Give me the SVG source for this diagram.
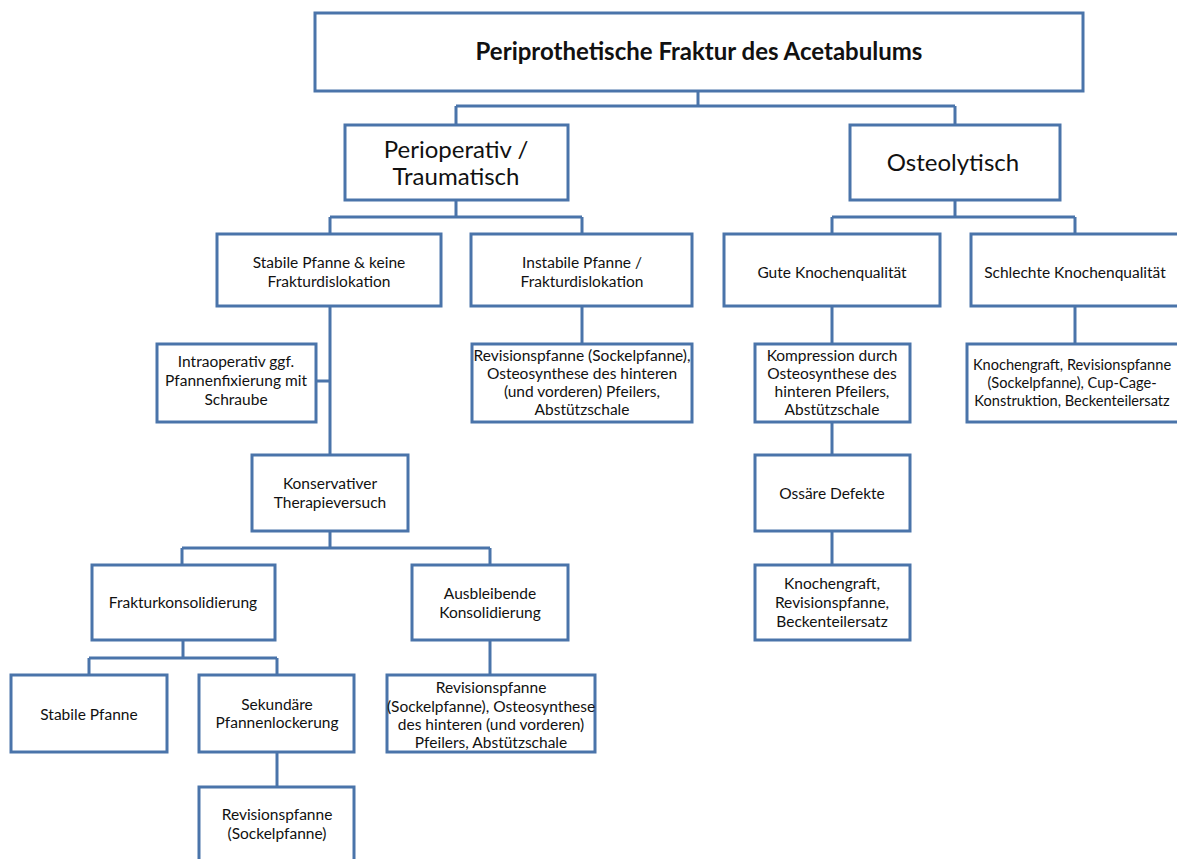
<svg xmlns="http://www.w3.org/2000/svg" width="1177" height="859" viewBox="0 0 1177 859">
<style>
.b{fill:#fff;stroke:#4A74AA;stroke-width:3}
.c{fill:none;stroke:#4A74AA;stroke-width:3}
text{font-family:Lato,"Open Sans","Liberation Sans",sans-serif;fill:#111;text-anchor:middle}
.s{font-size:15.5px}
.k{font-size:14.6px}
.m{font-size:24px}
.t{font-size:24px;font-weight:bold}
</style>
<rect width="1177" height="859" fill="#fff"/>
<g id="connectors">
<path class="c" d="M698 91V106M456 106H955M456 106V125M955 106V125"/>
<path class="c" d="M456 200V217M330 217H582M330 217V234M582 217V234"/>
<path class="c" d="M955 200V217M832 217H1075M832 217V234M1075 217V234"/>
<path class="c" d="M330 306V455M316 381H330"/>
<path class="c" d="M582 306V344"/>
<path class="c" d="M330 531V548M182 548H490M182 548V565M490 548V565"/>
<path class="c" d="M183 640V658M89 658H277M89 658V675M277 658V675"/>
<path class="c" d="M490 640V675"/>
<path class="c" d="M277 752V787"/>
<path class="c" d="M832 306V344M832 422V455M832 531V565"/>
<path class="c" d="M1075 306V344"/>
</g>
<g id="n_root"><rect class="b" x="315" y="13" width="768" height="78"/><text class="t" x="699" y="60">Periprothetische Fraktur des Acetabulums</text></g>
<g id="n_periop"><rect class="b" x="345" y="125" width="223" height="75"/><text class="m" x="456" y="158">Perioperativ /</text><text class="m" x="456" y="185">Traumatisch</text></g>
<g id="n_osteo"><rect class="b" x="850" y="125" width="210" height="75"/><text class="m" x="953" y="171">Osteolytisch</text></g>
<g id="n_stabil"><rect class="b" x="217" y="234" width="224" height="72"/><text class="s" x="329" y="268">Stabile Pfanne &amp; keine</text><text class="s" x="329" y="287">Frakturdislokation</text></g>
<g id="n_instabil"><rect class="b" x="471" y="234" width="221" height="72"/><text class="s" x="582" y="268">Instabile Pfanne /</text><text class="s" x="582" y="287">Frakturdislokation</text></g>
<g id="n_gute"><rect class="b" x="724" y="234" width="216" height="72"/><text class="s" x="832" y="278">Gute Knochenqualität</text></g>
<g id="n_schlecht"><rect class="b" x="971" y="234" width="215" height="72"/><text class="s" x="1075" y="278">Schlechte Knochenqualität</text></g>
<g id="n_intraop"><rect class="b" x="157" y="344" width="159" height="78"/><text class="s" x="236" y="367">Intraoperativ ggf.</text><text class="s" x="236" y="386">Pfannenfixierung mit</text><text class="s" x="236" y="405">Schraube</text></g>
<g id="n_rev1"><rect class="b" x="472" y="344" width="220" height="78"/><text class="s" x="582" y="361">Revisionspfanne (Sockelpfanne),</text><text class="s" x="582" y="379">Osteosynthese des hinteren</text><text class="s" x="582" y="397">(und vorderen) Pfeilers,</text><text class="s" x="582" y="415">Abstützschale</text></g>
<g id="n_kompr"><rect class="b" x="755" y="344" width="155" height="78"/><text class="s" x="832" y="361">Kompression durch</text><text class="s" x="832" y="379">Osteosynthese des</text><text class="s" x="832" y="397">hinteren Pfeilers,</text><text class="s" x="832" y="415">Abstützschale</text></g>
<g id="n_knochen1"><rect class="b" x="967" y="344" width="220" height="78"/><text class="k" x="1072" y="370">Knochengraft, Revisionspfanne</text><text class="k" x="1072" y="388">(Sockelpfanne), Cup-Cage-</text><text class="k" x="1072" y="406">Konstruktion, Beckenteilersatz</text></g>
<g id="n_konserv"><rect class="b" x="252" y="455" width="156" height="76"/><text class="s" x="330" y="489">Konservativer</text><text class="s" x="330" y="508">Therapieversuch</text></g>
<g id="n_ossaer"><rect class="b" x="755" y="455" width="155" height="76"/><text class="s" x="832" y="499">Ossäre Defekte</text></g>
<g id="n_fraktkons"><rect class="b" x="92" y="565" width="183" height="75"/><text class="s" x="183" y="608">Frakturkonsolidierung</text></g>
<g id="n_ausbl"><rect class="b" x="412" y="565" width="156" height="75"/><text class="s" x="490" y="599">Ausbleibende</text><text class="s" x="490" y="618">Konsolidierung</text></g>
<g id="n_knochen2"><rect class="b" x="755" y="565" width="155" height="75"/><text class="s" x="832" y="589">Knochengraft,</text><text class="s" x="832" y="608">Revisionspfanne,</text><text class="s" x="832" y="627">Beckenteilersatz</text></g>
<g id="n_stabilpf"><rect class="b" x="11" y="675" width="156" height="77"/><text class="s" x="89" y="720">Stabile Pfanne</text></g>
<g id="n_sekund"><rect class="b" x="199" y="675" width="155" height="77"/><text class="s" x="277" y="710">Sekundäre</text><text class="s" x="277" y="728">Pfannenlockerung</text></g>
<g id="n_rev2"><rect class="b" x="387" y="675" width="208" height="77"/><text class="s" x="491" y="693">Revisionspfanne</text><text class="s" x="491" y="712">(Sockelpfanne), Osteosynthese</text><text class="s" x="491" y="730">des hinteren (und vorderen)</text><text class="s" x="491" y="748">Pfeilers, Abstützschale</text></g>
<g id="n_rev3"><rect class="b" x="199" y="787" width="155" height="80"/><text class="s" x="277" y="820">Revisionspfanne</text><text class="s" x="277" y="839">(Sockelpfanne)</text></g>
</svg>
